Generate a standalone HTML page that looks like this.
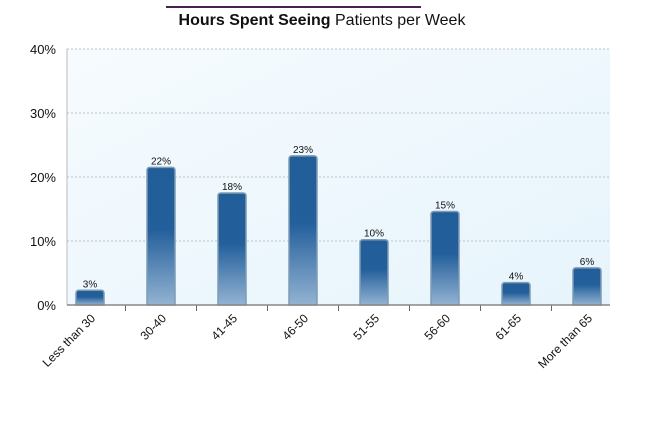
<!DOCTYPE html>
<html><head><meta charset="utf-8"><style>
body{margin:0;background:#fff;font-family:"Liberation Sans",sans-serif}
</style></head><body>
<svg width="645" height="439" viewBox="0 0 645 439">
<defs>
<linearGradient id="bg" x1="0" y1="0" x2="1" y2="1"><stop offset="0" stop-color="#f6fbfe"/><stop offset="1" stop-color="#e6f4fc"/></linearGradient>
<linearGradient id="bar" x1="0" y1="0" x2="0" y2="1"><stop offset="0" stop-color="#215d99"/><stop offset="0.45" stop-color="#235f9b"/><stop offset="1" stop-color="#93b3d2"/></linearGradient>
</defs>
<line x1="166" y1="7" x2="421" y2="7" stroke="#4a1f52" stroke-width="2"/>
<text x="322" y="25" text-anchor="middle" font-size="16" fill="#111"><tspan font-weight="bold">Hours Spent Seeing</tspan> Patients per Week</text>
<rect x="67" y="49" width="543" height="256" fill="url(#bg)"/>
<g id="grid"></g>
<g id="bars"></g>
<line x1="67" y1="49" x2="67" y2="305" stroke="#bbb"/>
<line x1="67" y1="305" x2="610" y2="305" stroke="#888" stroke-width="1.5"/>
</svg>
<script>
const categories=["Less than 30","30-40","41-45","46-50","51-55","56-60","61-65","More than 65"];
const values=[2.3,21.5,17.5,23.3,10.2,14.6,3.5,5.8];
const valueLabels=["3%","22%","18%","23%","10%","15%","4%","6%"];
const yTicks=[0,10,20,30,40];
const yTickLabels=["0%","10%","20%","30%","40%"];
const NS="http://www.w3.org/2000/svg";
const y0=305,ppu=6.4,x0=90,step=71,bw=28;
const yS=v=>y0-v*ppu, xS=i=>x0+i*step;
const grid=document.getElementById('grid'),bars=document.getElementById('bars');
function mk(t,a,p){const e=document.createElementNS(NS,t);for(const k in a)e.setAttribute(k,a[k]);p.appendChild(e);return e;}
yTicks.forEach((t,i)=>{
 if(t>0){const l=mk('line',{x1:67,x2:610,y1:yS(t),y2:yS(t),stroke:'#b8c4cc','stroke-dasharray':'2,2'},grid);
 
 }
 const tx=mk('text',{x:56,y:yS(t)+5,'text-anchor':'end','font-size':13,fill:'#111'},grid);
 tx.textContent=yTickLabels[i];
 
 
});
categories.forEach((c,i)=>{
 const cx=xS(i),top=yS(values[i]);
 const r=mk('path',{d:`M${cx-bw/2},${y0} V${top+3} Q${cx-bw/2},${top} ${cx-bw/2+3},${top} H${cx+bw/2-3} Q${cx+bw/2},${top} ${cx+bw/2},${top+3} V${y0} Z`,fill:'url(#bar)',stroke:'#7f9bb5','stroke-width':1.5},bars);
 
 
 const v=mk('text',{x:cx,y:top-3,'text-anchor':'middle','font-size':10,fill:'#111'},bars);
 v.textContent=valueLabels[i];
 
 
 if(i>0){const t=mk('line',{x1:cx-step/2,x2:cx-step/2,y1:y0,y2:y0+6,stroke:'#666'},bars);
 
 }
 const lb=mk('text',{x:cx+6,y:y0+14,'text-anchor':'end','font-size':12,fill:'#111',transform:`rotate(-45 ${cx+6} ${y0+14})`},bars);
 lb.textContent=c;
 
 
});
</script>
</body></html>
